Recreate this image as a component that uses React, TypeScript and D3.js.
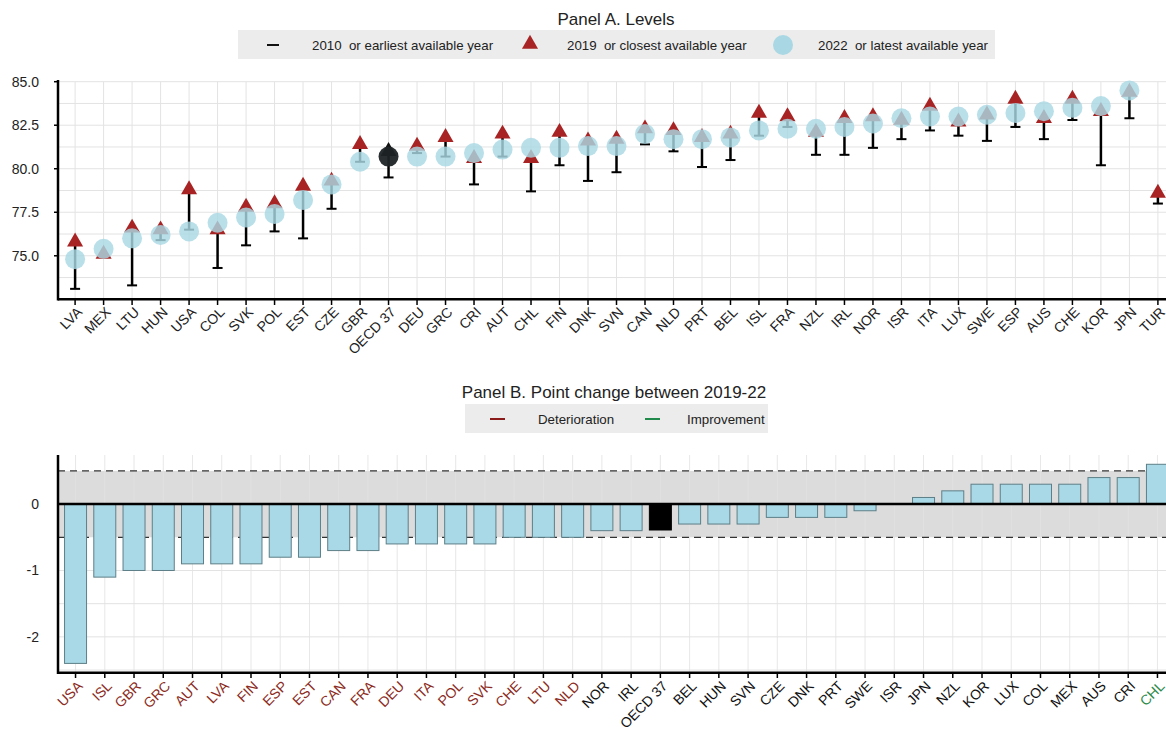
import * as d3 from "d3";

// Panel A: life expectancy levels
const aCountries = ["LVA", "MEX", "LTU", "HUN", "USA", "COL", "SVK", "POL", "EST", "CZE", "GBR", "OECD 37", "DEU", "GRC", "CRI", "AUT", "CHL", "FIN", "DNK", "SVN", "CAN", "NLD", "PRT", "BEL", "ISL", "FRA", "NZL", "IRL", "NOR", "ISR", "ITA", "LUX", "SWE", "ESP", "AUS", "CHE", "KOR", "JPN", "TUR"];
const a2010 = [73.1, 75.0, 73.3, 75.9, 76.5, 74.3, 75.6, 76.4, 76.0, 77.7, 80.4, 79.5, 80.9, 80.7, 79.1, 80.7, 78.7, 80.2, 79.3, 79.8, 81.4, 81.0, 80.1, 80.5, 81.9, 82.4, 80.8, 80.8, 81.2, 81.7, 82.2, 81.9, 81.6, 82.4, 81.7, 82.8, 80.2, 82.9, 78.0];
const a2019 = [75.8, 75.1, 76.6, 76.5, 78.8, 76.5, 77.8, 78.0, 79.0, 79.3, 81.4, 81.0, 81.3, 81.8, 80.6, 82.0, 80.6, 82.1, 81.6, 81.7, 82.3, 82.2, 81.8, 82.0, 83.2, 83.0, 82.1, 82.9, 83.0, 82.8, 83.6, 82.7, 83.1, 84.0, 82.9, 84.0, 83.3, 84.4, 78.6];
const a2022 = [74.8, 75.4, 76.0, 76.2, 76.4, 76.9, 77.2, 77.4, 78.2, 79.1, 80.4, 80.7, 80.7, 80.7, 80.9, 81.1, 81.2, 81.2, 81.3, 81.3, 82.0, 81.7, 81.7, 81.8, 82.2, 82.3, 82.3, 82.4, 82.6, 82.9, 83.0, 83.0, 83.1, 83.2, 83.3, 83.5, 83.6, 84.5, null];
const aTicks = [75.0, 77.5, 80.0, 82.5, 85.0];

// Panel B: point change between 2019-22
const bCountries = ["USA", "ISL", "GBR", "GRC", "AUT", "LVA", "FIN", "ESP", "EST", "CAN", "FRA", "DEU", "ITA", "POL", "SVK", "CHE", "LTU", "NLD", "NOR", "IRL", "OECD 37", "BEL", "HUN", "SVN", "CZE", "DNK", "PRT", "SWE", "ISR", "JPN", "NZL", "KOR", "LUX", "COL", "MEX", "AUS", "CRI", "CHL"];
const bChange = [-2.4, -1.1, -1.0, -1.0, -0.9, -0.9, -0.9, -0.8, -0.8, -0.7, -0.7, -0.6, -0.6, -0.6, -0.6, -0.5, -0.5, -0.5, -0.4, -0.4, -0.39, -0.3, -0.3, -0.3, -0.2, -0.2, -0.2, -0.1, 0, 0.1, 0.2, 0.3, 0.3, 0.3, 0.3, 0.4, 0.4, 0.6];
const bTicks = [0, -1, -2];

const FONT = "'Liberation Sans Narrow', 'Arial Narrow', 'Liberation Sans', Arial, sans-serif";
const RED = "#a82424";
const BLUE = "#a9d8e4";
const GRID = "#e3e3e3";
const LBL_RED = "#8c2b22";
const LBL_GREEN = "#2e8b4a";

export default function App() {
  const W = 1166;
  const H = 729;
  const left = 58;
  const right = 1175;

  const xA = d3.scalePoint<string>().domain(aCountries).range([left, right]).padding(0.6);
  const yA = d3.scaleLinear().domain([72.5, 85]).range([299.3, 81.7]);
  const xB = d3.scalePoint<string>().domain(bCountries).range([left, right]).padding(0.6);
  const yB = d3.scaleLinear().domain([-2.54, 0.74]).range([672.7, 455]);

  const tri = d3.symbol().type(d3.symbolTriangle).size(112)();
  const gridA = d3.range(72.5, 85.01, 1.25);
  const gridB = d3.range(-2.5, 0.51, 0.5);
  const barW = 22;

  const labelColor = (v: number) => (v <= -0.5 ? LBL_RED : v >= 0.5 ? LBL_GREEN : "#111");
  const pre = { whiteSpace: "pre" as const };

  return (
    <svg width={W} height={H} style={{ position: "absolute", left: 0, top: 0, fontFamily: FONT }}>
      <rect width={W} height={H} fill="#fff" />

      {/* ---------- Panel A ---------- */}
      <text x={616} y={25} textAnchor="middle" fontSize={17} fill="#222">Panel A. Levels</text>
      <rect x={238} y={30} width={757} height={29} fill="#ececec" />
      <line x1={267} x2={279} y1={45} y2={45} stroke="#111" strokeWidth={2} />
      <text x={312} y={50} fontSize={13.3} fill="#222" style={pre}>2010  or earliest available year</text>
      <path d={tri!} transform="translate(530,44)" fill={RED} />
      <text x={567} y={50} fontSize={13.3} fill="#222" style={pre}>2019  or closest available year</text>
      <circle cx={783} cy={45} r={10} fill={BLUE} />
      <text x={818} y={50} fontSize={13.3} fill="#222" style={pre}>2022  or latest available year</text>

      {gridA.map((v) => (
        <line key={"ga" + v} x1={left} x2={right} y1={yA(v)} y2={yA(v)} stroke={GRID} />
      ))}
      {aCountries.map((c) => (
        <line key={"gva" + c} x1={xA(c)} x2={xA(c)} y1={yA(85)} y2={yA(72.5)} stroke={GRID} />
      ))}

      {aCountries.map((c, i) => {
        const x = xA(c)!;
        const isOecd = c === "OECD 37";
        return (
          <g key={"a" + c}>
            <line x1={x} x2={x} y1={yA(a2010[i])} y2={yA(a2019[i])} stroke="#000" strokeWidth={2.5} />
            <line x1={x - 5} x2={x + 5} y1={yA(a2010[i])} y2={yA(a2010[i])} stroke="#000" strokeWidth={2} />
            <path d={tri!} transform={`translate(${x},${yA(a2019[i])})`} fill={isOecd ? "#111" : RED} />
            {a2022[i] != null && (
              <circle cx={x} cy={yA(a2022[i] as number)} r={10} fill={isOecd ? "#1e2326" : BLUE} opacity={isOecd ? 0.95 : 0.82} />
            )}
          </g>
        );
      })}

      <line x1={left} x2={left} y1={80} y2={300.5} stroke="#000" strokeWidth={2.5} />
      <line x1={left} x2={right} y1={299.3} y2={299.3} stroke="#000" strokeWidth={2.5} />
      {aTicks.map((v) => (
        <g key={"ta" + v}>
          <line x1={left - 4} x2={left} y1={yA(v)} y2={yA(v)} stroke="#000" strokeWidth={1.5} />
          <text x={39} y={yA(v) + 5} textAnchor="end" fontSize={14} fill="#222">{v.toFixed(1)}</text>
        </g>
      ))}
      {aCountries.map((c) => (
        <g key={"la" + c}>
          <line x1={xA(c)} x2={xA(c)} y1={299} y2={305} stroke="#000" strokeWidth={1.5} />
          <text transform={`translate(${xA(c)! + 8},${313}) rotate(-45)`} textAnchor="end" fontSize={14} fill="#222">{c}</text>
        </g>
      ))}

      {/* ---------- Panel B ---------- */}
      <text x={614} y={398} textAnchor="middle" fontSize={17} fill="#222">Panel B. Point change between 2019-22</text>
      <rect x={465} y={404} width={303} height={29} fill="#ececec" />
      <line x1={490} x2={505} y1={419} y2={419} stroke="#8b1a1a" strokeWidth={2} />
      <text x={538} y={424} fontSize={13.3} fill="#222">Deterioration</text>
      <line x1={645} x2={660} y1={419} y2={419} stroke="#1f8a4c" strokeWidth={2} />
      <text x={687} y={424} fontSize={13.3} fill="#222">Improvement</text>

      <rect x={left} y={yB(0.5)} width={right - left} height={yB(-0.5) - yB(0.5)} fill="#dcdcdc" />
      {gridB.map((v) => (
        <line key={"gb" + v} x1={left} x2={right} y1={yB(v)} y2={yB(v)} stroke={GRID} opacity={Math.abs(v) <= 0.5 ? 0 : 1} />
      ))}
      {bCountries.map((c) => (
        <line key={"gvb" + c} x1={xB(c)} x2={xB(c)} y1={455} y2={672.7} stroke={GRID} opacity={0.8} />
      ))}
      {[0.5, -0.5].map((v) => (
        <line key={"d" + v} x1={left} x2={right} y1={yB(v)} y2={yB(v)} stroke="#333" strokeWidth={1.3} strokeDasharray="7,5" />
      ))}

      {bCountries.map((c, i) => {
        const v = bChange[i];
        const x = xB(c)!;
        const y0 = yB(0);
        const y1 = yB(v);
        return (
          <rect key={"b" + c} x={x - barW / 2} y={Math.min(y0, y1)} width={barW} height={Math.abs(y1 - y0)}
            fill={c === "OECD 37" ? "#000" : "#a9d9e6"} stroke={c === "OECD 37" ? "#000" : "#5e7f88"} strokeWidth={1} />
        );
      })}

      <line x1={left} x2={right} y1={yB(0)} y2={yB(0)} stroke="#000" strokeWidth={2.5} />
      <line x1={left} x2={left} y1={455} y2={674} stroke="#000" strokeWidth={2.5} />
      <line x1={left} x2={right} y1={672.7} y2={672.7} stroke="#000" strokeWidth={2.5} />
      {bTicks.map((v) => (
        <text key={"tb" + v} x={39} y={yB(v) + 5} textAnchor="end" fontSize={14} fill="#222">{v}</text>
      ))}
      {bCountries.map((c, i) => (
        <g key={"lb" + c}>
          <line x1={xB(c)} x2={xB(c)} y1={672} y2={678} stroke="#000" strokeWidth={1.5} />
          <text transform={`translate(${xB(c)! + 8},${687}) rotate(-45)`} textAnchor="end" fontSize={14} fill={labelColor(bChange[i])}>{c}</text>
        </g>
      ))}
    </svg>
  );
}
